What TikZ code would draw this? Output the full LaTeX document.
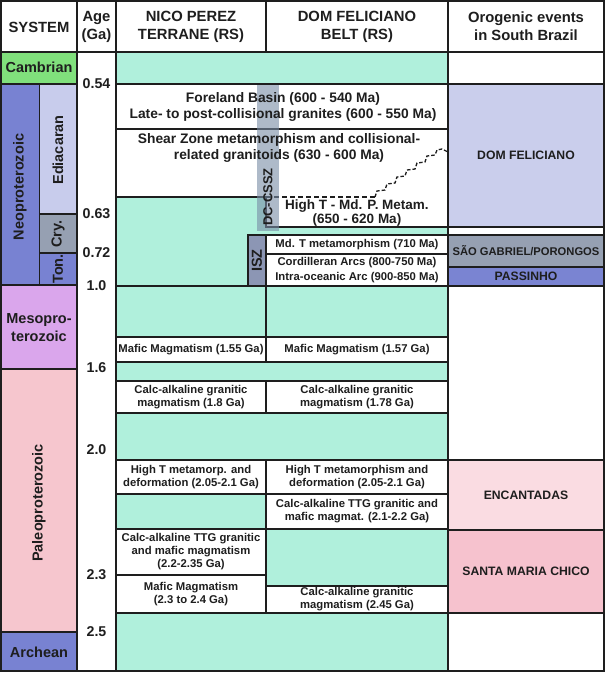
\documentclass[tikz,border=0pt]{standalone}
\usepackage{fontspec}
\setmainfont{Liberation Sans}
\definecolor{mint}{RGB}{176,240,220}
\definecolor{cambr}{RGB}{128,224,124}
\definecolor{neo}{RGB}{120,130,210}
\definecolor{edia}{RGB}{200,204,236}
\definecolor{cry}{RGB}{150,160,178}
\definecolor{meso}{RGB}{218,166,236}
\definecolor{paleo}{RGB}{246,198,206}
\definecolor{domf}{RGB}{202,206,236}
\definecolor{saog}{RGB}{150,160,178}
\definecolor{pass}{RGB}{122,132,210}
\definecolor{enc}{RGB}{250,220,226}
\definecolor{smc}{RGB}{246,194,206}
\definecolor{iszc}{RGB}{140,150,180}
\definecolor{barc}{RGB}{120,140,165}
\definecolor{lnc}{RGB}{30,30,30}
\begin{document}
\begin{tikzpicture}[x=1pt,y=-1pt,line join=miter,
  ln/.style={draw=lnc,line width=1.4pt},
  sm/.style={font=\fontsize{11.3}{13}\selectfont\bfseries,align=center,inner sep=0pt,text=lnc},
  md/.style={font=\fontsize{13.8}{16.5}\selectfont\bfseries,align=center,inner sep=0pt,text=lnc},
  hd/.style={font=\fontsize{14.8}{18}\selectfont\bfseries,align=center,inner sep=0pt,text=lnc},
  sy/.style={font=\fontsize{14.5}{18}\selectfont\bfseries,align=center,inner sep=0pt,text=lnc},
  ag/.style={font=\fontsize{14.2}{17}\selectfont\bfseries,inner sep=0pt,text=lnc},
  og/.style={font=\fontsize{12.2}{14}\selectfont\bfseries,align=center,inner sep=0pt,text=lnc}]
\useasboundingbox (0,0) rectangle (605,673);
\fill[white] (0,0) rectangle (605,673);
% ---- SYSTEM column
\fill[cambr] (1,52) rectangle (77,84);
\fill[neo] (1,84) rectangle (39.5,285);
\fill[edia] (39.5,84) rectangle (77,214);
\fill[cry] (39.5,214) rectangle (77,253);
\fill[neo] (39.5,253) rectangle (77,285);
\fill[meso] (1,285) rectangle (77,369);
\fill[paleo] (1,369) rectangle (77,632);
\fill[neo] (1,632) rectangle (77,671);
\draw[ln] (1,84) -- (77,84) (1,285) -- (77,285) (1,369) -- (77,369) (1,632) -- (77,632)
  (39.5,84) -- (39.5,285) (39.5,214) -- (77,214) (39.5,253) -- (77,253);
% ---- terrane columns
\fill[mint] (116,52) rectangle (448,671);
\draw[ln,fill=white] (116,84) rectangle (448,129);
\draw[ln,fill=white] (116,129) -- (448,129) -- (448,227) -- (266,227) -- (266,197) -- (116,197);
\fill[white] (117,130) rectangle (447,196);
\draw[ln] (116,197) -- (266,197);
\draw[ln,fill=white] (266,235) rectangle (448,254);
\draw[ln,fill=white] (266,254) rectangle (448,286);
\draw[ln,fill=iszc] (248,235) rectangle (266,286);
\draw[ln] (116,286) -- (448,286) (266,286) -- (266,337);
\draw[ln,fill=white] (116,337) rectangle (266,362);
\draw[ln,fill=white] (266,337) rectangle (448,362);
\draw[ln,fill=white] (116,381) rectangle (266,413);
\draw[ln,fill=white] (266,381) rectangle (448,413);
\draw[ln,fill=white] (116,460) rectangle (266,494);
\draw[ln,fill=white] (266,460) rectangle (448,494);
\draw[ln,fill=white] (266,494) rectangle (448,529);
\draw[ln,fill=white] (116,529) rectangle (266,575);
\draw[ln,fill=white] (116,575) rectangle (266,613);
\draw[ln,fill=white] (266,586) rectangle (448,613);
% dashed boundary with staircase
\draw[ln,line width=1.3pt,dash pattern=on 5pt off 3pt] (266,197) -- (375,197);
\draw[ln,line width=1.3pt,dash pattern=on 3.5pt off 2pt] (375,197)
  -- ++(2,-6) -- ++(8,-1) -- ++(2,-6) -- ++(8,-1) -- ++(2,-6) -- ++(8,-1)
  -- ++(2,-6) -- ++(8,-1) -- ++(2,-6) -- ++(8,-1) -- ++(2,-6) -- ++(8,-1)
  -- ++(2,-5) -- ++(5,-1) -- (448,152);
% ---- orogenic column
\draw[ln,fill=domf] (448,84) rectangle (604,227);
\draw[ln,fill=saog] (448,235) rectangle (604,267);
\draw[ln,fill=pass] (448,267) rectangle (604,286);
\draw[ln,fill=enc] (448,460) rectangle (604,530);
\draw[ln,fill=smc] (448,530) rectangle (604,613);
% ---- grid
\draw[ln] (1,52) -- (604,52) (77,1) -- (77,671) (116,1) -- (116,671)
  (266,1) -- (266,52) (448,1) -- (448,671);
\draw[ln,line width=1.7pt] (1,1) rectangle (604,671);
% ---- shear zone bars
\fill[barc,fill opacity=0.6] (257,85) rectangle (279,231);
\node[md,rotate=90,font=\fontsize{13}{15}\selectfont\bfseries] (dccssz) at (268,197) {DC-CSSZ};
\node[sy,rotate=90] (isz) at (257,260.5) {ISZ};
% ---- headers
\node[hd] (hsys) at (39,27) {SYSTEM};
\node[hd] (hage) at (96.5,26.5) {Age\\(Ga)};
\node[hd] (hnico) at (191,27) {NICO PEREZ\\TERRANE (RS)};
\node[hd] (hdom) at (357,27) {DOM FELICIANO\\BELT (RS)};
\node[hd] (horo) at (526,26.5) {Orogenic events\\in South Brazil};
% ---- system names
\node[sy] (camb) at (39,67.5) {Cambrian};
\node[sy,rotate=90] (neop) at (20,187) {Neoproterozoic};
\node[sy,rotate=90] (edi) at (58,150) {Ediacaran};
\node[sy,rotate=90] (cryo) at (58,234) {Cry.};
\node[sy,rotate=90] (ton) at (58,269) {Ton.};
\node[sy] (mesop) at (39,328) {Mesopro-\\terozoic};
\node[sy,rotate=90] (paleop) at (39,503) {Paleoproterozoic};
\node[sy] (arch) at (39,652) {Archean};
% ---- ages
\node[ag] (a054) at (96.5,84) {0.54};
\node[ag] (a063) at (96.5,214) {0.63};
\node[ag] (a072) at (96.5,253) {0.72};
\node[ag] (a10) at (96.5,286) {1.0};
\node[ag] (a16) at (96.5,368) {1.6};
\node[ag] (a20) at (96.5,450) {2.0};
\node[ag] (a23) at (96.5,575) {2.3};
\node[ag] (a25) at (96.5,632) {2.5};
% ---- event texts
\node[md] (fore) at (283,107) {Foreland Basin (600 - 540 Ma)\\Late- to post-collisional granites (600 - 550 Ma)};
\node[md] (shear) at (279,148) {Shear Zone metamorphism and collisional-\\related granitoids (630 - 600 Ma)};
\node[md,font=\fontsize{13.5}{13.5}\selectfont\bfseries] (hight) at (357,213) {High T - Md. P. Metam.\\(650 - 620 Ma)};
\node[sm] (mdt) at (357,244.5) {Md. T metamorphism (710 Ma)};
\node[sm,font=\fontsize{11.3}{15}\selectfont\bfseries] (cord) at (357,270) {Cordilleran Arcs (800-750 Ma)\\Intra-oceanic Arc (900-850 Ma)};
\node[sm] (maf1) at (191,349.5) {Mafic Magmatism (1.55 Ga)};
\node[sm] (maf2) at (357,349.5) {Mafic Magmatism (1.57 Ga)};
\node[sm] (calc1) at (191,397) {Calc-alkaline granitic\\magmatism (1.8 Ga)};
\node[sm] (calc2) at (357,397) {Calc-alkaline granitic\\magmatism (1.78 Ga)};
\node[sm] (ht1) at (191,477) {High T metamorp. and\\deformation (2.05-2.1 Ga)};
\node[sm] (ht2) at (357,477) {High T metamorphism and\\deformation (2.05-2.1 Ga)};
\node[sm] (ttg2) at (357,511.5) {Calc-alkaline TTG granitic and\\mafic magmat. (2.1-2.2 Ga)};
\node[sm] (ttg1) at (191,552) {Calc-alkaline TTG granitic\\and mafic magmatism\\(2.2-2.35 Ga)};
\node[sm] (maf3) at (191,594) {Mafic Magmatism\\(2.3 to 2.4 Ga)};
\node[sm] (calc3) at (357,599.5) {Calc-alkaline granitic\\magmatism (2.45 Ga)};
% ---- orogenic texts
\node[og] (odf) at (526,155.5) {DOM FELICIANO};
\node[og,font=\fontsize{11.2}{13}\selectfont\bfseries] (osg) at (526,251) {SÃO GABRIEL/PORONGOS};
\node[og] (opas) at (526,276.5) {PASSINHO};
\node[og] (oenc) at (526,495) {ENCANTADAS};
\node[og] (osmc) at (526,571.5) {SANTA MARIA CHICO};
\end{tikzpicture}
\end{document}
